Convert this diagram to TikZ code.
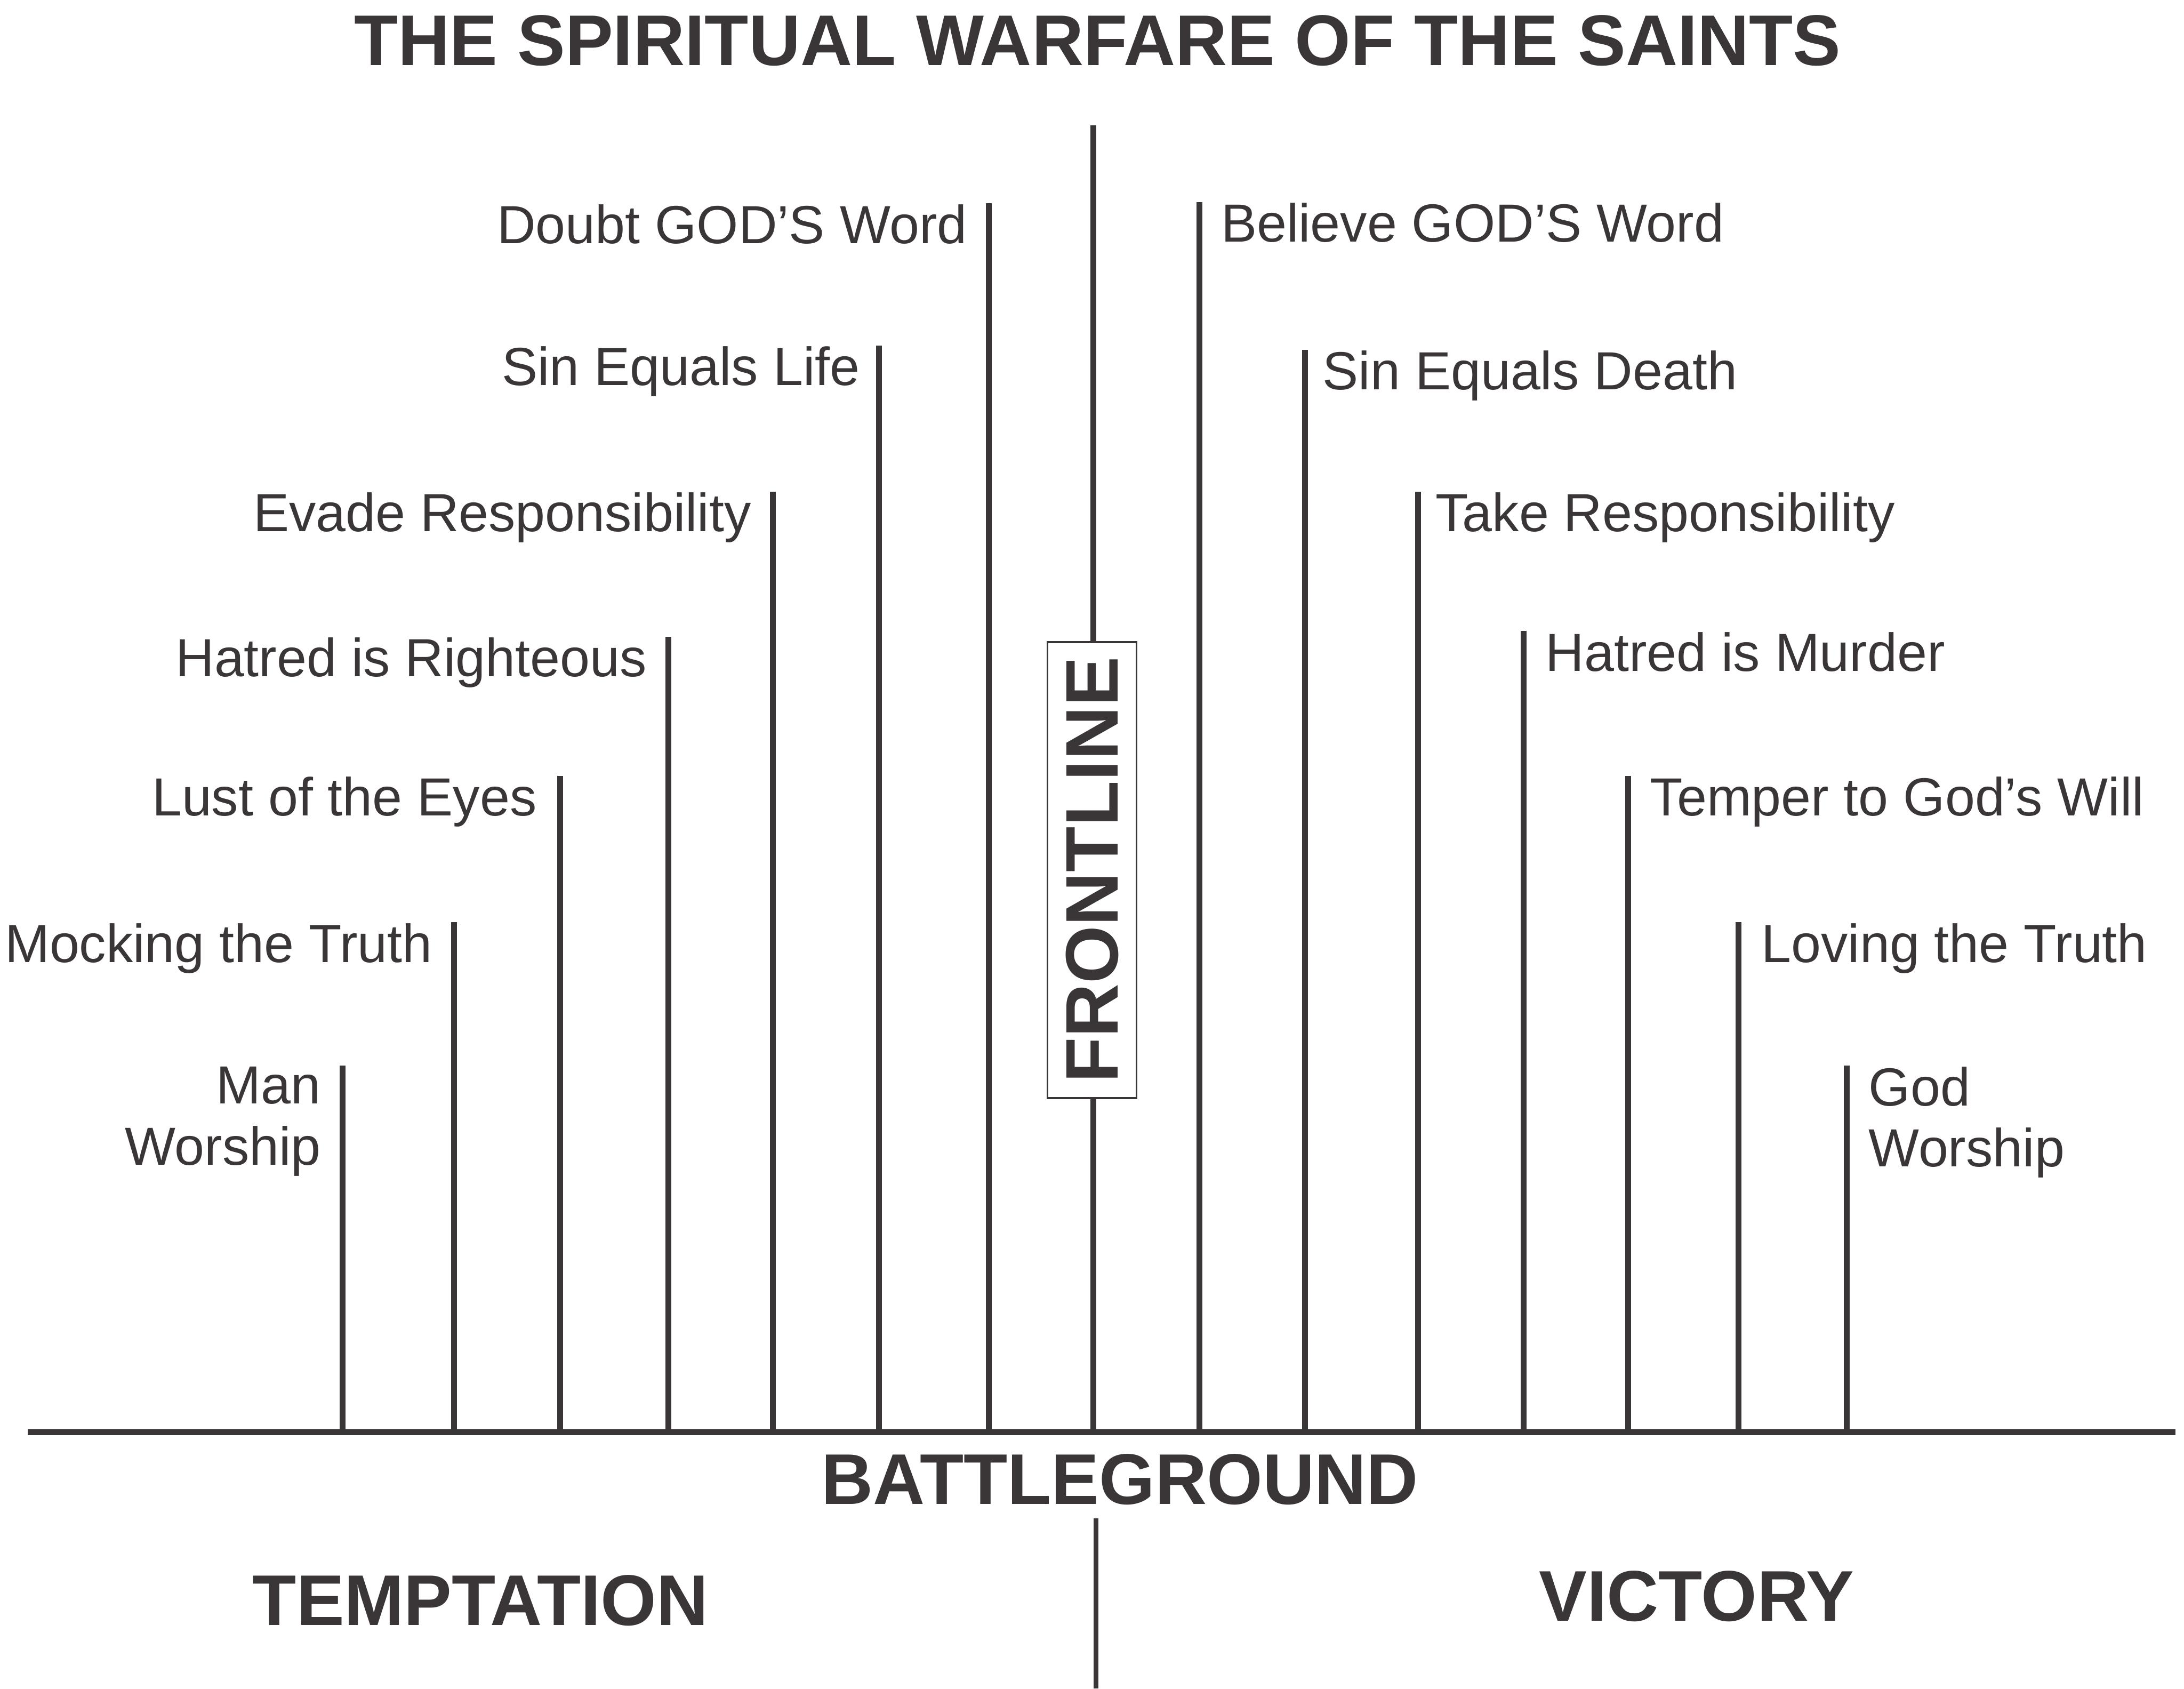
\documentclass[tikz,border=0pt]{standalone}
\usepackage{fontspec}
\setmainfont{Liberation Sans}
\usetikzlibrary{positioning}
\definecolor{ink}{HTML}{3A3637}

\begin{document}
\begin{tikzpicture}[x=0.01cm,y=-0.01cm,
  lbl/.style={inner sep=0pt,text=ink,font=\fontsize{10.95}{12.5}\selectfont},
  hd/.style={inner sep=0pt,text=ink,font=\fontsize{14.65}{16}\selectfont\bfseries},
  post/.style={draw=ink,line width=1.2pt}]
  \useasboundingbox (0,0) rectangle (1568,1212);
  \node[hd](title) at (788,29){THE SPIRITUAL WARFARE OF THE SAINTS};
  \coordinate (gl) at (20,1028); \coordinate (gr) at (1562,1028);
  \coordinate (f) at (785,90);
  \coordinate (t1) at (246,765); \coordinate (t2) at (326,662); \coordinate (t3) at (402,557); \coordinate (t4) at (480,457);
  \coordinate (t5) at (555,353); \coordinate (t6) at (631,248); \coordinate (t7) at (710,146);
  \coordinate (v1) at (861,145); \coordinate (v2) at (937,251); \coordinate (v3) at (1018,353); \coordinate (v4) at (1094,453);
  \coordinate (v5) at (1169,557); \coordinate (v6) at (1248,662); \coordinate (v7) at (1326,765);
  \node[lbl,align=right,below left=0pt and 1.5mm of t1](lt1){Man\\Worship};
  \node[lbl,below left=0pt and 1.5mm of t2](lt2){Mocking the Truth};
  \node[lbl,below left=0pt and 1.6mm of t3](lt3){Lust of the Eyes};
  \node[lbl,below left=0pt and 1.5mm of t4](lt4){Hatred is Righteous};
  \node[lbl,below left=0pt and 1.5mm of t5](lt5){Evade Responsibility};
  \node[lbl,below left=0pt and 1.3mm of t6](lt6){Sin Equals Life};
  \node[lbl,below left=0pt and 1.5mm of t7](lt7){Doubt GOD’S Word};
  \node[lbl,below right=0pt and 1.5mm of v1](lv1){Believe GOD’S Word};
  \node[lbl,below right=0pt and 1.2mm of v2](lv2){Sin Equals Death};
  \node[lbl,below right=0pt and 1.2mm of v3](lv3){Take Responsibility};
  \node[lbl,below right=0pt and 1.5mm of v4](lv4){Hatred is Murder};
  \node[lbl,below right=0pt and 1.5mm of v5](lv5){Temper to God’s Will};
  \node[lbl,below right=0pt and 1.6mm of v6](lv6){Loving the Truth};
  \node[lbl,align=left,below right=0pt and 1.5mm of v7](lv7){God\\Worship};
  \draw[post](t1)--(t1|-gl);\draw[post](t2)--(t2|-gl);\draw[post](t3)--(t3|-gl);\draw[post](t4)--(t4|-gl);\draw[post](t5)--(t5|-gl);\draw[post](t6)--(t6|-gl);\draw[post](t7)--(t7|-gl);
  \draw[post](v1)--(v1|-gl);\draw[post](v2)--(v2|-gl);\draw[post](v3)--(v3|-gl);\draw[post](v4)--(v4|-gl);\draw[post](v5)--(v5|-gl);\draw[post](v6)--(v6|-gl);\draw[post](v7)--(v7|-gl);
  \draw[post](f)--(f|-gl);
  \node[hd,font=\fontsize{15.2}{16}\selectfont\bfseries,draw=ink,line width=0.4pt,fill=white,rotate=90,
    minimum width=3.27cm,minimum height=0.64cm](front) at (784,624.5){FRONTLINE};
  \draw[post](gl)--(gr);
  \node[hd](bg) at (804,1062){BATTLEGROUND};
  \node[hd](tm) at (345,1149){TEMPTATION};
  \node[hd](vc) at (1218,1146){VICTORY};
  \coordinate (d1) at (787,1090); \coordinate (d2) at (787,1212);
  \draw[draw=ink,line width=1pt](d1)--(d2);
\end{tikzpicture}
\end{document}
